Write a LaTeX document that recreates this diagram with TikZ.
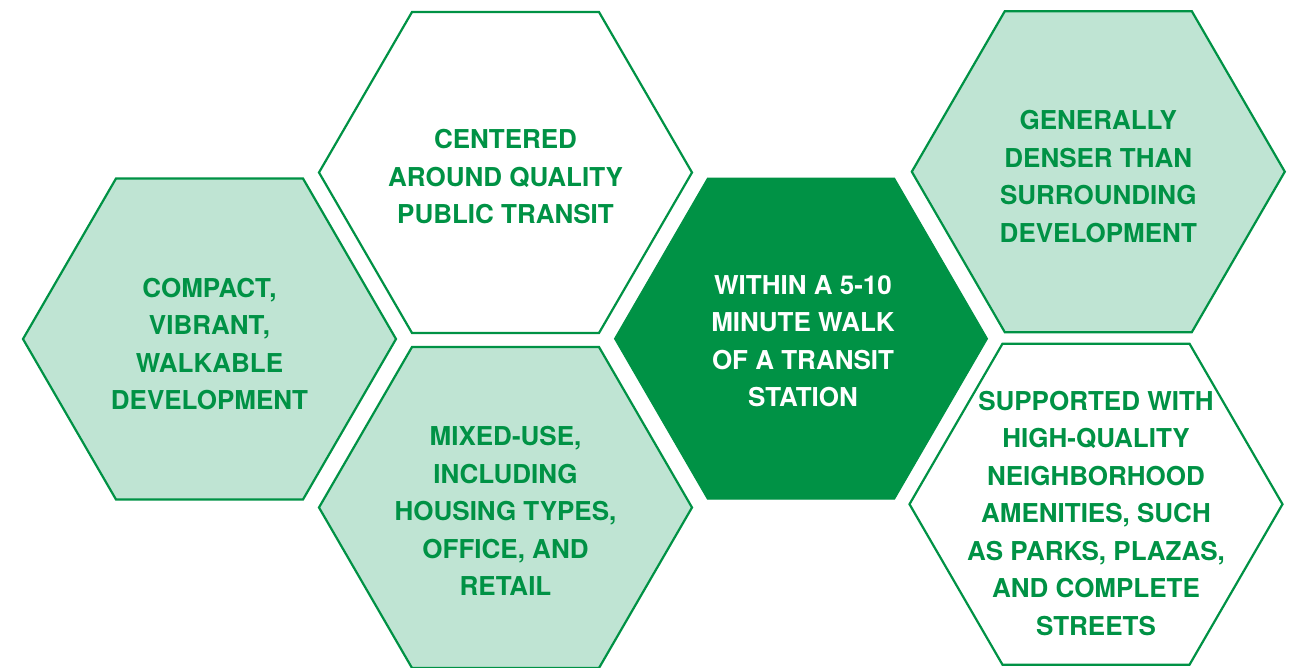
\documentclass[tikz,border=0pt]{standalone}
\usepackage{fontspec}
\setmainfont{TeX Gyre Heros}
\definecolor{tgreen}{RGB}{0,146,69}
\definecolor{tlight}{RGB}{191,228,211}
\tikzset{
  hexa/.pic={\path[pic actions] (-186.5,0) -- (-93.5,-160.5) -- (93.5,-160.5) -- (186.5,0) -- (93.5,160.5) -- (-93.5,160.5) -- cycle;},
  hexlight/.style={draw=tgreen, fill=tlight, line width=2.2pt, line join=miter},
  hexwhite/.style={draw=tgreen, fill=white, line width=2.2pt, line join=miter},
  hexdark/.style={draw=tgreen, fill=tgreen, line width=1pt},
  lbl/.style={align=center, text=tgreen, font=\fontsize{26}{37.5}\selectfont\bfseries, inner sep=0pt},
  lblw/.style={lbl, text=white}
}
\begin{document}
\begin{tikzpicture}[x=1pt,y=-1pt]
\useasboundingbox (0,0) rectangle (1294,668);
\pic[hexlight] at (209.5,339) {hexa};
\pic[hexwhite] at (505.5,172.5) {hexa};
\pic[hexlight] at (505.5,507.5) {hexa};
\pic[hexdark] at (801,338.7) {hexa};
\pic[hexlight] at (1098.3,171.7) {hexa};
\pic[hexwhite] at (1096,504.2) {hexa};
\node[lbl] (t1) at (209.5,344) {COMPACT,\\VIBRANT,\\WALKABLE\\DEVELOPMENT};
\node[lbl] (t2) at (505.5,177) {CENTERED\\AROUND QUALITY\\PUBLIC TRANSIT};
\node[lbl] (t3) at (505.5,511) {MIXED-USE,\\INCLUDING\\HOUSING TYPES,\\OFFICE, AND\\RETAIL};
\node[lblw] (t4) at (803,341) {WITHIN A 5-10\\MINUTE WALK\\OF A TRANSIT\\STATION};
\node[lbl] (t5) at (1098.3,176.5) {GENERALLY\\DENSER THAN\\SURROUNDING\\DEVELOPMENT};
\node[lbl] (t6) at (1096,513.5) {SUPPORTED WITH\\HIGH-QUALITY\\NEIGHBORHOOD\\AMENITIES, SUCH\\AS PARKS, PLAZAS,\\AND COMPLETE\\STREETS};
\end{tikzpicture}
\end{document}
